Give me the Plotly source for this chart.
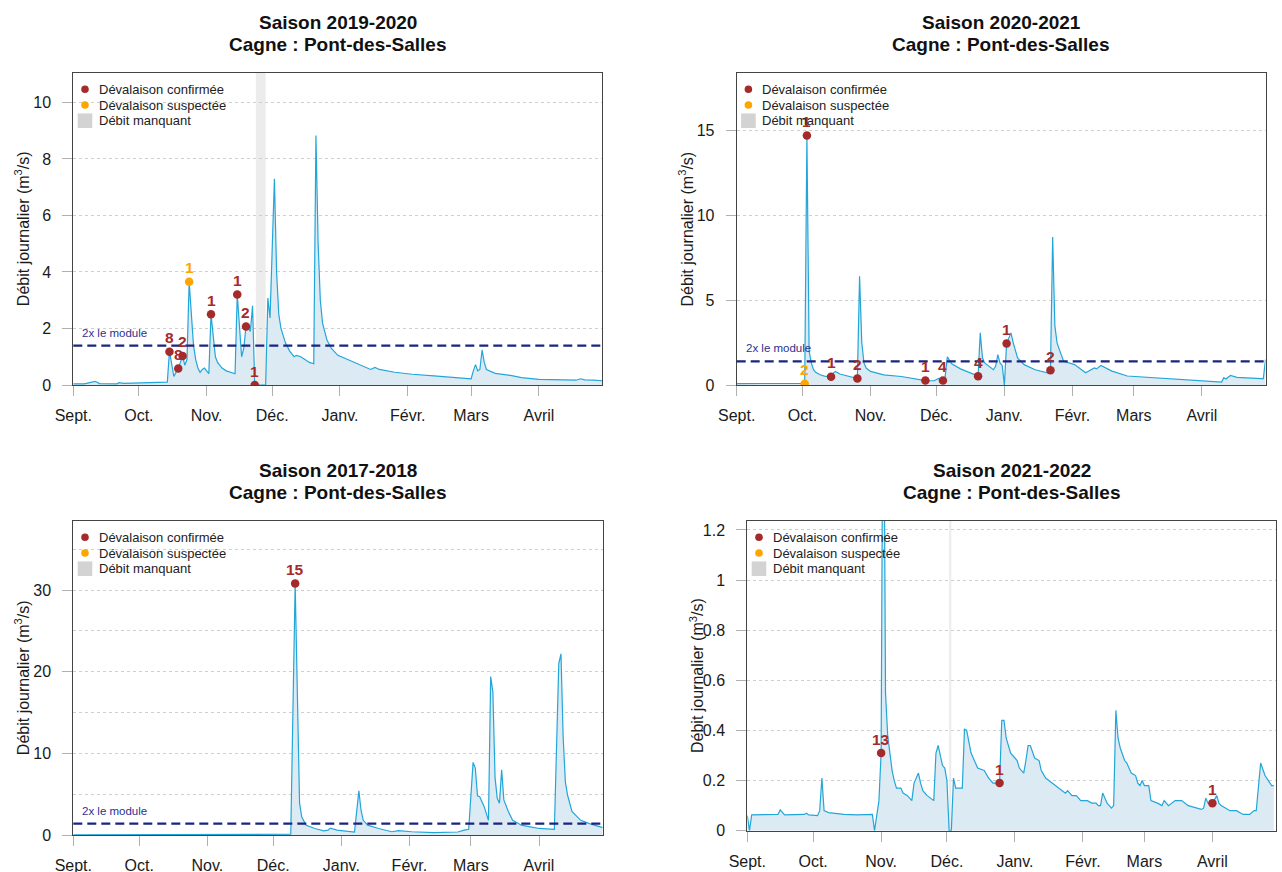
import pandas as pd
import plotly.graph_objects as go

W, H = 1282, 872

# ---------------- DATA ----------------
# Season 2019-2020
s1_start = "2019-09-01"
s1_jour = [0, 5, 10, 12, 20, 21, 23, 33, 34, 40, 43, 44, 45, 46, 47, 48, 49, 50, 51, 52,
           53, 54, 55, 56, 57, 58, 59, 60, 61, 62, 63, 64, 65, 66, 68, 70, 73, 74, 75, 76,
           77, 78, 79, 80, 81, 82, 83, 88, 89, 90, 91, 92, 93, 94, 95, 96, 97, 99, 101, 102,
           104, 106, 108, 110, 111, 112, 113, 114, 116, 118, 121, 125, 130, 136, 138, 140, 147, 155, 165, 175,
           182, 183, 184, 185, 186, 187, 188, 189, 193, 200, 205, 213, 220, 230, 232, 234, 238, 242]
s1_debit = [0.04, 0.04, 0.13, 0.05, 0.04, 0.08, 0.06, 0.09, 0.08, 0.10, 0.10, 1.20, 0.70, 0.30, 0.45, 0.58, 0.80, 1.03, 0.70, 0.90,
            3.65, 2.40, 1.40, 0.90, 0.60, 0.45, 0.55, 0.60, 0.50, 0.40, 2.50, 1.60, 1.00, 0.80, 0.60, 0.50, 0.42, 0.40, 3.20, 2.20,
            1.00, 1.30, 2.07, 2.00, 1.90, 2.80, 0.00, 0.00, 3.08, 2.37, 4.50, 7.30, 4.00, 2.50, 2.00, 1.70, 1.50, 1.20, 1.00, 1.05,
            1.00, 0.90, 0.80, 0.75, 8.83, 5.00, 3.00, 2.20, 1.60, 1.30, 1.05, 0.92, 0.75, 0.55, 0.62, 0.55, 0.45, 0.38, 0.32, 0.27,
            0.22, 0.50, 0.72, 0.50, 0.55, 1.24, 0.80, 0.55, 0.41, 0.34, 0.26, 0.20, 0.18, 0.17, 0.22, 0.18, 0.17, 0.15]
s1_conf_jour = [44, 48, 50, 63, 75, 79, 83]
s1_conf_debit = [1.18, 0.58, 1.03, 2.50, 3.20, 2.07, 0.00]
s1_conf_n = ["8", "8", "2", "1", "1", "2", "1"]
s1_susp_jour = [53]
s1_susp_debit = [3.65]
s1_susp_n = ["1"]
s1_manquant = [("2019-11-23 12:00", "2019-11-28 00:00")]

# Season 2020-2021
s2_start = "2020-09-01"
s2_jour = [0, 15, 20, 29, 31, 32, 33, 34, 35, 36, 38, 40, 43, 44, 45, 47, 50, 54, 55, 56,
           57, 58, 59, 61, 64, 67, 75, 84, 86, 90, 91, 92, 93, 94, 95, 96, 97, 98, 102, 106,
           109, 110, 111, 112, 113, 115, 116, 117, 118, 119, 120, 121, 122, 123, 125, 126, 128, 131, 136, 140,
           142, 143, 144, 145, 146, 147, 149, 154, 156, 159, 163, 164, 166, 168, 171, 178, 190, 205, 220, 221,
           222, 223, 225, 228, 239, 240, 241]
s2_debit = [0.08, 0.08, 0.10, 0.10, 0.10, 14.70, 2.00, 1.30, 0.90, 0.75, 0.60, 0.52, 0.48, 0.70, 0.80, 0.65, 0.55, 0.45, 0.38, 6.40,
            2.50, 1.30, 1.00, 0.80, 0.70, 0.60, 0.50, 0.32, 0.26, 0.25, 0.30, 0.38, 0.28, 0.26, 0.50, 1.66, 1.45, 1.25, 0.95, 0.75,
            0.60, 0.52, 3.07, 1.60, 1.30, 1.10, 0.95, 0.90, 1.10, 1.79, 1.30, 1.15, 0.00, 2.44, 3.07, 2.50, 1.60, 1.20, 0.90, 0.75,
            0.70, 0.87, 8.72, 3.50, 2.48, 2.10, 1.40, 1.20, 1.00, 0.72, 1.00, 0.95, 1.15, 1.00, 0.82, 0.53, 0.43, 0.30, 0.18, 0.17,
            0.43, 0.35, 0.56, 0.45, 0.37, 0.37, 1.50]
s2_conf_jour = [32, 43, 55, 86, 94, 110, 123, 143]
s2_conf_debit = [14.70, 0.48, 0.38, 0.26, 0.26, 0.52, 2.44, 0.87]
s2_conf_n = ["1", "1", "2", "1", "4", "4", "1", "2"]
s2_susp_jour = [31]
s2_susp_debit = [0.08]
s2_susp_n = ["2"]
s2_manquant = []

# Season 2017-2018
s3_start = "2017-09-01"
s3_jour = [0, 8, 9, 10, 60, 67, 68, 80, 90, 95, 99, 101, 102, 103, 104, 106, 110, 114, 116, 117,
           120, 128, 130, 131, 132, 134, 139, 145, 148, 154, 164, 170, 175, 178, 180, 182, 183, 184, 185, 187,
           188, 189, 190, 191, 192, 193, 194, 195, 196, 198, 200, 204, 208, 212, 219, 221, 222, 223, 224, 225,
           227, 231, 235, 240, 241]
s3_debit = [0.02, 0.02, 0.06, 0.02, 0.03, 0.10, 0.04, 0.06, 0.10, 0.08, 0.10, 30.80, 16.00, 3.90, 2.20, 1.20, 0.80, 0.50, 0.60, 0.85,
            0.60, 0.37, 5.40, 3.00, 1.80, 1.20, 0.80, 0.40, 0.53, 0.40, 0.29, 0.30, 0.37, 0.60, 0.70, 8.90, 8.20, 4.80, 4.70, 3.50,
            2.50, 1.80, 19.40, 17.50, 7.00, 4.50, 3.90, 8.00, 4.30, 2.90, 1.80, 1.20, 1.00, 0.80, 0.70, 21.00, 22.20, 12.00, 6.50, 4.90,
            2.90, 1.80, 1.40, 1.00, 0.90]
s3_conf_jour = [101]
s3_conf_debit = [30.80]
s3_conf_n = ["15"]
s3_susp_jour = []
s3_susp_debit = []
s3_susp_n = []
s3_manquant = []

# Season 2021-2022
s4_start = "2021-09-01"
s4_jour = [0, 1, 2, 10, 14, 15, 17, 26, 27, 28, 32, 33, 34, 35, 37, 44, 50, 57, 58, 60,
           61, 62, 63, 64, 65, 66, 67, 68, 70, 71, 73, 75, 76, 78, 79, 80, 82, 85, 86, 87,
           88, 89, 90, 91, 92, 93, 94, 95, 98, 99, 100, 102, 104, 105, 108, 110, 112, 115, 116, 117,
           118, 120, 121, 123, 124, 126, 127, 128, 129, 131, 133, 134, 136, 139, 142, 145, 146, 148, 150, 152,
           155, 157, 159, 160, 161, 162, 164, 166, 167, 168, 169, 170, 172, 173, 175, 177, 178, 179, 180, 181,
           183, 184, 187, 189, 190, 192, 195, 198, 201, 207, 208, 209, 210, 212, 214, 215, 216, 220, 223, 226,
           229, 231, 232, 234, 236, 239, 240]
s4_debit = [0.060, 0.000, 0.063, 0.063, 0.065, 0.083, 0.063, 0.065, 0.070, 0.063, 0.060, 0.080, 0.210, 0.080, 0.072, 0.065, 0.063, 0.065, 0.000, 0.120,
            0.310, 2.200, 0.550, 0.380, 0.310, 0.240, 0.200, 0.170, 0.170, 0.150, 0.140, 0.120, 0.190, 0.230, 0.190, 0.160, 0.140, 0.120, 0.310, 0.340,
            0.300, 0.260, 0.250, 0.200, 0.000, 0.000, 0.210, 0.170, 0.170, 0.405, 0.400, 0.310, 0.270, 0.250, 0.240, 0.210, 0.190, 0.190, 0.440, 0.440,
            0.370, 0.310, 0.300, 0.280, 0.250, 0.230, 0.280, 0.340, 0.340, 0.290, 0.280, 0.240, 0.210, 0.190, 0.170, 0.150, 0.160, 0.140, 0.140, 0.120,
            0.120, 0.110, 0.110, 0.100, 0.100, 0.150, 0.110, 0.090, 0.100, 0.480, 0.370, 0.330, 0.280, 0.270, 0.230, 0.220, 0.190, 0.180, 0.200, 0.180,
            0.180, 0.120, 0.110, 0.100, 0.120, 0.100, 0.120, 0.120, 0.100, 0.085, 0.090, 0.130, 0.110, 0.110, 0.140, 0.110, 0.100, 0.080, 0.080, 0.065,
            0.065, 0.080, 0.080, 0.270, 0.220, 0.180, 0.180]
s4_conf_jour = [61, 115, 212]
s4_conf_debit = [0.31, 0.19, 0.11]
s4_conf_n = ["13", "1", "1"]
s4_susp_jour = []
s4_susp_debit = []
s4_susp_n = []
s4_manquant = [("2021-12-02", "2021-12-03")]

module_x2 = 1.39
mois_labels = ["Sept.", "Oct.", "Nov.", "Déc.", "Janv.", "Févr.", "Mars", "Avril"]
legend_labels = ["Dévalaison confirmée", "Dévalaison suspectée", "Débit manquant"]
station = "Cagne : Pont-des-Salles"

# ---------------- STYLE / LAYOUT ----------------
FONT = "Liberation Sans, Arial, Helvetica, sans-serif"
C_LINE = "#22a6d9"
C_FILL = "#dceaf4"
C_CONF = "#a52a2a"
C_SUSP = "#ffa500"
C_MOD = "#1a2580"
C_MISS = "#ececec"
C_GRID = "#cfcfcf"
C_FRAME = "#444444"
C_TICK = "#b0b0b0"

panels = [
    dict(title="Saison 2019-2020", start=s1_start, end="2020-04-30", jour=s1_jour, debit=s1_debit,
         cj=s1_conf_jour, cd=s1_conf_debit, cn=s1_conf_n, sj=s1_susp_jour, sd=s1_susp_debit, sn=s1_susp_n,
         miss=s1_manquant, box=(73.3, 602.3, 72.7, 385.0), ymax=11.05, dtick=2, minor=None),
    dict(title="Saison 2020-2021", start=s2_start, end="2021-04-30", jour=s2_jour, debit=s2_debit,
         cj=s2_conf_jour, cd=s2_conf_debit, cn=s2_conf_n, sj=s2_susp_jour, sd=s2_susp_debit, sn=s2_susp_n,
         miss=s2_manquant, box=(736.7, 1265.5, 72.7, 385.0), ymax=18.4, dtick=5, minor=None),
    dict(title="Saison 2017-2018", start=s3_start, end="2018-04-30", jour=s3_jour, debit=s3_debit,
         cj=s3_conf_jour, cd=s3_conf_debit, cn=s3_conf_n, sj=s3_susp_jour, sd=s3_susp_debit, sn=s3_susp_n,
         miss=s3_manquant, box=(73.3, 602.7, 520.7, 835.0), ymax=38.5, dtick=10, minor=5),
    dict(title="Saison 2021-2022", start=s4_start, end="2022-04-30", jour=s4_jour, debit=s4_debit,
         cj=s4_conf_jour, cd=s4_conf_debit, cn=s4_conf_n, sj=s4_susp_jour, sd=s4_susp_debit, sn=s4_susp_n,
         miss=s4_manquant, box=(747.3, 1276.0, 520.7, 830.7), ymax=1.237, dtick=0.2, minor=None),
]


def to_dates(start, jours):
    return [d.strftime("%Y-%m-%d") for d in pd.Timestamp(start) + pd.to_timedelta(jours, unit="D")]


def px(x):
    return x / W


def py(y):
    return 1 - y / H


fig = go.Figure()
shapes = []
annotations = []
layout_axes = {}

for i, p in enumerate(panels):
    k = "" if i == 0 else str(i + 1)
    xa, ya = "x" + k, "y" + k
    left, right, top, bottom = p["box"]

    dates = to_dates(p["start"], p["jour"])
    fig.add_trace(go.Scatter(x=dates, y=p["debit"], mode="lines", xaxis=xa, yaxis=ya,
                             line=dict(color=C_LINE, width=1.2), fill="tozeroy", fillcolor=C_FILL,
                             showlegend=False, hoverinfo="x+y"))

    # missing flow bands
    for (m0, m1) in p["miss"]:
        shapes.append(dict(type="rect", xref=xa, yref="paper", x0=m0, x1=m1,
                           y0=py(bottom), y1=py(top),
                           fillcolor=C_MISS, line=dict(width=0), layer="below"))

    # 2x module line
    if module_x2 < p["ymax"]:
        shapes.append(dict(type="line", xref="paper", yref=ya, x0=px(left), x1=px(right),
                           y0=module_x2, y1=module_x2,
                           line=dict(color=C_MOD, width=2.2, dash="9px,5px"), layer="above"))
        annotations.append(dict(text="2x le module", xref="paper", yref=ya, x=px(left + 7), y=module_x2,
                                xanchor="left", yanchor="middle", yshift=13, showarrow=False,
                                font=dict(family=FONT, size=11.5, color="#2b3190")))

    # points
    for (pj, pd_, pn, col) in [(p["cj"], p["cd"], p["cn"], C_CONF), (p["sj"], p["sd"], p["sn"], C_SUSP)]:
        if not pj:
            continue
        pdates = to_dates(p["start"], pj)
        fig.add_trace(go.Scatter(x=pdates, y=pd_, mode="markers", xaxis=xa, yaxis=ya,
                                 marker=dict(color=col, size=8.5, line=dict(width=0)),
                                 showlegend=False, cliponaxis=True))
        for dx, dy, n in zip(pdates, pd_, pn):
            annotations.append(dict(text="<b>" + n + "</b>", xref=xa, yref=ya, x=dx, y=dy,
                                    yshift=14, xanchor="center", yanchor="middle", showarrow=False,
                                    font=dict(family=FONT, size=15.5, color=col)))

    # axes
    month_ticks = [d.strftime("%Y-%m-%d") for d in pd.date_range(p["start"], periods=8, freq="MS")]
    layout_axes["xaxis" + k] = dict(
        domain=[px(left), px(right)], anchor=ya, type="date", automargin=False,
        range=[p["start"], p["end"]], tickvals=month_ticks, ticktext=mois_labels,
        showgrid=False, zeroline=False, showline=True, mirror=True, linecolor=C_FRAME, linewidth=1,
        ticks="outside", ticklen=10, tickcolor=C_TICK, tickwidth=1, ticklabelstandoff=6,
        tickfont=dict(family=FONT, size=16, color="#1a1a1a"), fixedrange=True)
    yax = dict(
        domain=[py(bottom), py(top)], anchor=xa, range=[0, p["ymax"]], dtick=p["dtick"], tick0=0,
        automargin=False,
        showgrid=True, gridcolor=C_GRID, griddash="dot", gridwidth=1, zeroline=False,
        showline=True, mirror=True, linecolor=C_FRAME, linewidth=1,
        ticks="outside", ticklen=10, tickcolor=C_TICK, tickwidth=1, ticklabelstandoff=8,
        tickfont=dict(family=FONT, size=16, color="#1a1a1a"), fixedrange=True)
    if p["minor"]:
        yax["minor"] = dict(dtick=p["minor"], tick0=0, showgrid=True, gridcolor=C_GRID,
                            griddash="dot", gridwidth=1, ticks="")
    layout_axes["yaxis" + k] = yax

    # titles
    cx = (left + right) / 2
    annotations.append(dict(text="<b>" + p["title"] + "</b>", xref="paper", yref="paper",
                            x=px(cx), y=py(top - 50.5), xanchor="center", yanchor="middle", showarrow=False,
                            font=dict(family=FONT, size=19, color="#111111")))
    annotations.append(dict(text="<b>" + station + "</b>", xref="paper", yref="paper",
                            x=px(cx), y=py(top - 28.5), xanchor="center", yanchor="middle", showarrow=False,
                            font=dict(family=FONT, size=19, color="#111111")))
    # y title
    annotations.append(dict(text="Débit journalier (m<sup>3</sup>/s)", xref="paper", yref="paper",
                            x=px(left - 51), y=py((top + bottom) / 2), xanchor="center", yanchor="middle",
                            textangle=-90, showarrow=False,
                            font=dict(family=FONT, size=16, color="#1a1a1a")))

    # legend (inside, top-left)
    lx, l_rows = left + 11.7, [top + 16.6, top + 32.3, top + 48.0]
    for r, (lab, col) in enumerate(zip(legend_labels, [C_CONF, C_SUSP, None])):
        yy = l_rows[r]
        if col is not None:
            shapes.append(dict(type="circle", xref="paper", yref="paper",
                               x0=px(lx - 3.8), x1=px(lx + 3.8), y0=py(yy + 3.8), y1=py(yy - 3.8),
                               fillcolor=col, line=dict(width=0), layer="above"))
        else:
            shapes.append(dict(type="rect", xref="paper", yref="paper",
                               x0=px(lx - 7.3), x1=px(lx + 7.3), y0=py(yy + 7.3), y1=py(yy - 7.3),
                               fillcolor="#d3d3d3", line=dict(width=0), layer="above"))
        annotations.append(dict(text=lab, xref="paper", yref="paper", x=px(left + 23.4), y=py(yy),
                                xanchor="left", yanchor="middle", showarrow=False,
                                font=dict(family=FONT, size=13, color="#222222")))

fig.update_layout(
    template="none",
    width=W, height=H, margin=dict(l=0, r=0, t=0, b=0, pad=0, autoexpand=False),
    paper_bgcolor="white", plot_bgcolor="white",
    font=dict(family=FONT, size=14, color="#1a1a1a"),
    shapes=shapes, annotations=annotations, showlegend=False,
    **layout_axes,
)

fig.write_html("out.html", config={"displayModeBar": False},
               post_script="document.body.style.margin='0';document.body.style.padding='0';")
